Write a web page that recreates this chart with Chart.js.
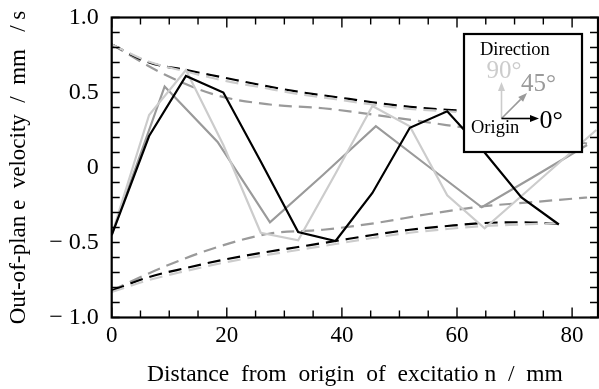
<!DOCTYPE html>
<html>
<head>
<meta charset="utf-8">
<script src="https://cdn.jsdelivr.net/npm/chart.js@4"></script>
<style>
  html, body { margin: 0; padding: 0; background: #fff; }
  canvas { display: block; }
</style>
</head>
<body>
<canvas id="chart" width="599" height="389"></canvas>
<script>
// measurement positions (mm)
const xFine = [0, 6.5, 12.9, 19.4, 25.9, 32.4, 38.9, 45.3, 51.8, 58.3, 64.8, 71.2, 77.7, 84.2];
const xCoarse = [0, 9.2, 18.4, 27.5, 36.7, 45.9, 55.1, 64.3, 73.4, 82.6];

// velocities (mm/s)
const vel0 = [-0.45, 0.21, 0.61, 0.50, 0.04, -0.43, -0.49, -0.17, 0.265, 0.375, 0.10, -0.20, -0.38];
const vel45 = [-0.45, 0.54, 0.17, -0.365, -0.05, 0.275, 0.005, -0.265, -0.06, 0.15];
const vel90 = [-0.45, 0.35, 0.65, 0.15, -0.435, -0.485, -0.04, 0.41, 0.275, -0.185, -0.405, -0.19, 0.03, 0.25];

// decay envelopes
const env0Up = [0.82, 0.70, 0.65, 0.60, 0.55, 0.505, 0.47, 0.435, 0.405, 0.385, 0.37, 0.36, 0.355];
const env0Low = [-0.82, -0.73, -0.67, -0.615, -0.57, -0.53, -0.49, -0.45, -0.415, -0.39, -0.37, -0.365, -0.375];
const env90Up = [0.82, 0.705, 0.64, 0.58, 0.535, 0.49, 0.455, 0.42, 0.39, 0.375, 0.355, 0.345, 0.345];
const env90Low = [-0.83, -0.75, -0.69, -0.635, -0.59, -0.55, -0.51, -0.47, -0.435, -0.41, -0.39, -0.38, -0.37];
const env45Up = [0.82, 0.62, 0.48, 0.42, 0.395, 0.35, 0.30, 0.25, 0.21, 0.16];
const env45Low = [-0.82, -0.66, -0.53, -0.44, -0.415, -0.37, -0.31, -0.26, -0.23, -0.20];

const xTicks = [0, 20, 40, 60, 80];
const yTicks = [-1, -0.5, 0, 0.5, 1];

const BLACK = '#000000';
const MID = '#9a9a9a';
const LIGHT = '#cccccc';

function pts(xs, ys) {
  return ys.map((y, i) => ({ x: xs[i], y }));
}

function solid(data, color, order) {
  return { data, borderColor: color, borderWidth: 2.2, pointRadius: 0, fill: false, order };
}

function dashed(data, color, order) {
  return {
    data, borderColor: color, borderWidth: 2.2, borderDash: [13, 7], pointRadius: 0,
    fill: false, cubicInterpolationMode: 'monotone', order
  };
}

// inward ticks on all four sides plus the box frame
const frameTicks = {
  id: 'frameTicks',
  afterDraw(chart) {
    const { ctx, chartArea: a, scales: { x, y } } = chart;
    ctx.save();
    ctx.strokeStyle = '#000';
    ctx.lineWidth = 1.4;
    ctx.beginPath();
    for (let v = 0; v <= x.max; v += 5) {
      const px = x.getPixelForValue(v);
      const len = v % 20 === 0 ? 10 : 7;
      ctx.moveTo(px, a.bottom); ctx.lineTo(px, a.bottom - len);
      ctx.moveTo(px, a.top); ctx.lineTo(px, a.top + len);
    }
    for (let i = -10; i <= 10; i++) {
      const py = y.getPixelForValue(i / 10);
      ctx.moveTo(a.left, py); ctx.lineTo(a.left + 8, py);
      ctx.moveTo(a.right, py); ctx.lineTo(a.right - 8, py);
    }
    ctx.stroke();
    ctx.lineWidth = 2.2;
    ctx.strokeRect(a.left, a.top, a.right - a.left, a.bottom - a.top);
    ctx.restore();
  }
};

function arrow(ctx, x0, y0, x1, y1, color) {
  const ang = Math.atan2(y1 - y0, x1 - x0);
  const hl = 9, hw = 3.5;
  ctx.strokeStyle = color;
  ctx.fillStyle = color;
  ctx.lineWidth = 1.6;
  ctx.beginPath();
  ctx.moveTo(x0, y0);
  ctx.lineTo(x1 - hl * Math.cos(ang), y1 - hl * Math.sin(ang));
  ctx.stroke();
  ctx.beginPath();
  ctx.moveTo(x1, y1);
  ctx.lineTo(x1 - hl * Math.cos(ang) + hw * Math.sin(ang), y1 - hl * Math.sin(ang) - hw * Math.cos(ang));
  ctx.lineTo(x1 - hl * Math.cos(ang) - hw * Math.sin(ang), y1 - hl * Math.sin(ang) + hw * Math.cos(ang));
  ctx.closePath();
  ctx.fill();
}

// direction key in the upper right corner
const directionKey = {
  id: 'directionKey',
  afterDatasetsDraw(chart) {
    const { ctx, chartArea: a } = chart;
    const L = a.right - 134, T = a.top + 16.5, W = 118, H = 118;
    ctx.save();
    ctx.fillStyle = '#fff';
    ctx.fillRect(L, T, W, H);
    ctx.lineWidth = 2.2;
    ctx.strokeStyle = '#000';
    ctx.strokeRect(L, T, W, H);

    const ox = L + 37.5, oy = T + 84.5;
    arrow(ctx, ox, oy, ox, T + 48, LIGHT);
    arrow(ctx, ox, oy, L + 63, T + 59, MID);
    arrow(ctx, ox, oy, L + 75, oy, BLACK);

    ctx.textBaseline = 'alphabetic';
    ctx.textAlign = 'left';
    ctx.font = '18.5px "Liberation Serif"';
    ctx.fillStyle = BLACK;
    ctx.fillText('Direction', L + 16, T + 21);
    ctx.fillText('Origin', L + 7, T + 99);
    ctx.font = '25px "Liberation Serif"';
    ctx.fillStyle = LIGHT;
    ctx.fillText('90°', L + 22.5, T + 44);
    ctx.fillStyle = MID;
    ctx.fillText('45°', L + 57, T + 56.5);
    ctx.font = '26px "Liberation Serif"';
    ctx.fillStyle = BLACK;
    ctx.fillText('0°', L + 75.5, T + 94);
    ctx.restore();
  }
};

Chart.defaults.font.family = '"Liberation Serif", "Times New Roman", serif';
Chart.defaults.color = '#000';

new Chart(document.getElementById('chart').getContext('2d'), {
  type: 'line',
  data: {
    datasets: [
      solid(pts(xFine, vel0), BLACK, 0),
      solid(pts(xFine, vel90), LIGHT, 1),
      solid(pts(xCoarse, vel45), MID, 2),
      dashed(pts(xFine, env0Up), BLACK, 4),
      dashed(pts(xFine, env0Low), BLACK, 4),
      dashed(pts(xFine, env90Up), LIGHT, 3),
      dashed(pts(xFine, env90Low), LIGHT, 3),
      dashed(pts(xCoarse, env45Up), MID, 5),
      dashed(pts(xCoarse, env45Low), MID, 5)
    ]
  },
  options: {
    responsive: false,
    animation: false,
    events: [],
    layout: { padding: { top: 17.5, right: 1, left: 0, bottom: 0 } },
    plugins: { legend: { display: false }, tooltip: { enabled: false } },
    scales: {
      x: {
        type: 'linear',
        min: 0,
        max: 84.5,
        grid: { display: false, drawTicks: false },
        border: { display: false },
        afterBuildTicks: s => { s.ticks = xTicks.map(v => ({ value: v })); },
        afterFit: s => { s.height = 71.5; s.paddingLeft = 0; s.paddingRight = 0; },
        ticks: { font: { size: 23 }, padding: 5, maxRotation: 0 },
        title: {
          display: true,
          text: 'Distance  from  origin  of  excitatio n  /  mm',
          font: { size: 23.5 },
          padding: { top: 3, bottom: 0 }
        }
      },
      y: {
        min: -1,
        max: 1,
        grid: { display: false, drawTicks: false },
        border: { display: false },
        afterBuildTicks: s => { s.ticks = yTicks.map(v => ({ value: v })); },
        afterFit: s => { s.width = 111.7; s.paddingTop = 0; s.paddingBottom = 0; },
        ticks: {
          font: { size: 24 },
          padding: 13,
          callback: v => v === 0 ? '0' : (v < 0 ? '\u2212 ' + Math.abs(v).toFixed(1) : v.toFixed(1))
        },
        title: {
          display: true,
          text: 'Out-of-plan e  velocity  /  mm   / s',
          font: { size: 23 },
          padding: { top: 5, bottom: 0 }
        }
      }
    }
  },
  plugins: [frameTicks, directionKey]
});
</script>
</body>
</html>
